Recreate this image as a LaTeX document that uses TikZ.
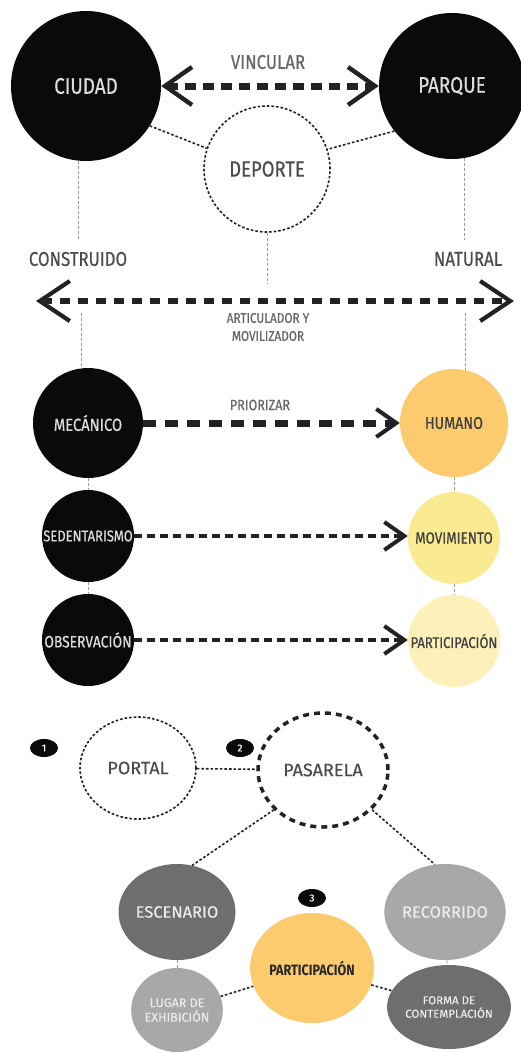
\documentclass[tikz,border=0pt]{standalone}
\usepackage{fontspec}
\setmainfont{Fira Sans}[FakeStretch=0.84, UprightFeatures={FakeBold=0.5}]
\newfontfamily\lowfont{Fira Sans}[UprightFeatures={FakeBold=0.4}]
\usetikzlibrary{arrows.meta,shapes.geometric}
\definecolor{negro}{HTML}{0A0A0A}
\definecolor{claro}{HTML}{DCDCDC}
\definecolor{rotulo}{HTML}{666666}
\definecolor{flecha}{HTML}{222222}
\definecolor{humano}{HTML}{FCCB6E}
\definecolor{movim}{HTML}{FAEA91}
\definecolor{partic}{HTML}{FDF0B8}
\definecolor{oscuro}{HTML}{6E6E6E}
\definecolor{medio}{HTML}{A8A8A8}
\newcommand{\fsz}[1]{\fontsize{#1}{#1}\selectfont}

\begin{document}
\begin{tikzpicture}[x=1pt,y=-1pt]

    \tikzset{
      BlackVertex/.style = { circle, fill=negro, text=claro, inner sep=0pt },
      ColorVertex/.style = { circle, fill=#1, text=black!75, inner sep=0pt },
      GreyVertex/.style = { ellipse, fill=#1, text=white!92!black, inner sep=0pt,
                  font=\lowfont\fsz{16.5} },
      DotVertex/.style = { draw=flecha, line width=1.6pt, dash pattern=on 2.6pt off 2pt,
                  inner sep=0pt, text=black!70 },
      Badge/.style = { ellipse, fill=negro, text=white, inner sep=0pt,
                  minimum width=28, minimum height=18, font=\lowfont\fsz{10} },
      LabelStyle/.style = { text=rotulo, inner sep=0pt },
      DotEdge/.style = { draw=flecha, line width=1.6pt, dash pattern=on 2.6pt off 2pt },
      ThinEdge/.style = { draw=black!40, line width=0.8pt, dash pattern=on 3pt off 2pt },
      BigEdge/.style = { draw=flecha, line width=#1 },
      TopTip/.tip = { Straight Barb[length=27pt, width=38pt, line width=4.4pt] },
      WideTip/.tip = { Straight Barb[length=30pt, width=40pt, line width=4.2pt] },
      SmallTip/.tip = { Straight Barb[length=20pt, width=28pt, line width=4pt] }
    }
    \useasboundingbox (0,0) rectangle (520,1053);

    % ciudad - parque
    \node[BlackVertex, minimum size=150, font=\fsz{22.5}] (ciudad) at (86,86) {CIUDAD};
    \node[BlackVertex, minimum size=146, font=\fsz{22.5}] (parque) at (452,86) {PARQUE};
    \node[DotVertex, circle, minimum size=126, font=\fsz{22}] (deporte) at (267,169) {DEPORTE};
    \node[LabelStyle, font=\fsz{20}] (vincular) at (268,62) {VINCULAR};

    \draw[BigEdge=7pt, dash pattern=on 11pt off 7pt, TopTip-TopTip] (ciudad) -- (parque);
    \draw[DotEdge] (ciudad.-32) -- (deporte.161);
    \draw[DotEdge] (parque.218) -- (deporte.18);

    % construido - natural
    \node[LabelStyle, text=black!70, font=\fsz{20}] (construido) at (78,259) {CONSTRUIDO};
    \node[LabelStyle, text=black!70, font=\fsz{20}] (natural) at (468,259) {NATURAL};
    \node[LabelStyle, align=center, font=\fsz{14}] (articulador) at (268,327)
         {ARTICULADOR Y\\[4pt]MOVILIZADOR};
    \coordinate (izq) at (36,301);
    \coordinate (der) at (514,301);
    \draw[BigEdge=6pt, dash pattern=on 10pt off 8pt, WideTip-WideTip] (izq) -- (der);

    % mecanico - humano
    \node[BlackVertex, minimum size=110, font=\fsz{17.5}] (mecanico) at (88,423) {MECÁNICO};
    \node[ColorVertex=humano, minimum size=108, font=\fsz{17}] (humano) at (454,423) {HUMANO};
    \node[BlackVertex, minimum size=92, font=\fsz{15.5}] (sedentarismo) at (88,536) {SEDENTARISMO};
    \node[ColorVertex=movim, minimum size=92, font=\fsz{16}] (movimiento) at (454,538) {MOVIMIENTO};
    \node[BlackVertex, minimum size=92, font=\fsz{16.5}] (observacion) at (88,640) {OBSERVACIÓN};
    \node[ColorVertex=partic, minimum size=92, font=\fsz{15.5}] (participa) at (454,641) {PARTICIPACIÓN};
    \node[LabelStyle, font=\fsz{15}] (priorizar) at (260,405) {PRIORIZAR};

    \draw[BigEdge=7pt, dash pattern=on 13pt off 9pt, -SmallTip] (mecanico) -- (humano);
    \draw[BigEdge=4.5pt, dash pattern=on 8pt off 5pt, -SmallTip] (sedentarismo) -- (movimiento.west |- sedentarismo);
    \draw[BigEdge=4.5pt, dash pattern=on 8pt off 5pt, -SmallTip] (observacion) -- (participa.west |- observacion);

    % lineas guia
    \coordinate (l1) at (ciudad.264 |- 0,240);
    \coordinate (l2) at (mecanico.97 |- 0,313);
    \coordinate (r1) at (parque.280 |- 0,240);
    \coordinate (r2) at (humano.78 |- 0,313);
    \coordinate (m1) at (deporte.south |- 0,283);
    \draw[ThinEdge] (ciudad.264) -- (l1);
    \draw[ThinEdge] (l2) -- (mecanico.97);
    \draw[ThinEdge] (parque.280) -- (r1);
    \draw[ThinEdge] (r2) -- (humano.78);
    \draw[ThinEdge] (deporte.south) -- (m1);
    \draw[ThinEdge] (mecanico) -- (sedentarismo);
    \draw[ThinEdge] (sedentarismo) -- (observacion);
    \draw[ThinEdge] (humano) -- (movimiento);
    \draw[ThinEdge] (movimiento) -- (participa);

    % portal - pasarela
    \node[Badge] (b1) at (44,748) {1};
    \node[Badge] (b2) at (240,748) {2};
    \node[Badge] (b3) at (312,898) {3};
    \node[DotVertex, ellipse, minimum width=116, minimum height=102, font=\lowfont\fsz{18}]
         (portal) at (138,768) {PORTAL};
    \node[DotVertex, ellipse, line width=3.5pt, dash pattern=on 6pt off 5pt,
          minimum width=130, minimum height=114, font=\lowfont\fsz{18}]
         (pasarela) at (323,770) {PASARELA};
    \node[GreyVertex=oscuro, minimum width=110, minimum height=96] (escenario) at (177,912) {ESCENARIO};
    \node[GreyVertex=medio, minimum width=110, minimum height=96] (recorrido) at (445,912) {RECORRIDO};
    \node[ellipse, fill=humano, text=black!85, inner sep=0pt, minimum width=124, minimum height=110,
          font=\bfseries\fsz{15}] (central) at (312,968) {PARTICIPACIÓN};
    \node[GreyVertex=medio, minimum width=86, minimum height=84, align=center, font=\lowfont\fsz{12.5}]
         (lugar) at (177,1010) {LUGAR DE\\[2pt]EXHIBICIÓN};
    \node[GreyVertex=oscuro, minimum width=88, minimum height=84, align=center, font=\lowfont\fsz{11.5}]
         (forma) at (449,1007) {FORMA DE\\[2pt]CONTEMPLACIÓN};

    \draw[DotEdge] (portal) -- (pasarela);
    \draw[DotEdge] (pasarela.219) -- (escenario.72);
    \draw[DotEdge] (pasarela.321) -- (recorrido.102);
    \draw[DotEdge] (lugar) -- (central);
    \draw[DotEdge] (central) -- (forma);
    \draw[ThinEdge] (escenario) -- (lugar);
    \draw[ThinEdge] (recorrido) -- (forma);

\end{tikzpicture}
\end{document}
